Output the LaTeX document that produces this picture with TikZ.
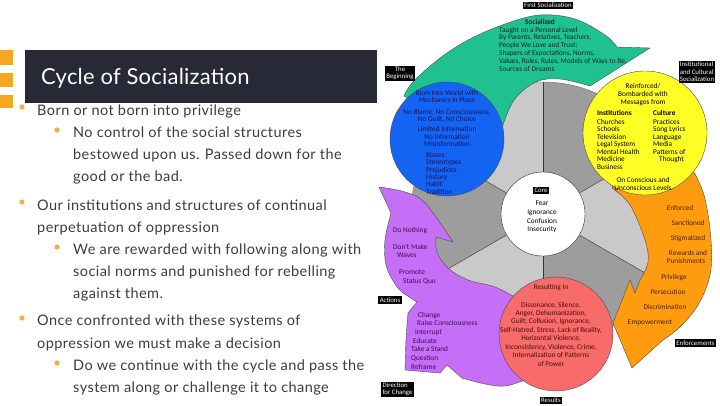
\documentclass[tikz,border=0pt]{standalone}
\usepackage{fontspec}
\setmainfont{Lato}
\newfontfamily\dfont{Carlito}
\newfontfamily\bodyfont[LetterSpace=3]{Lato}
\newfontfamily\titlefont[LetterSpace=1]{Lato}
\usetikzlibrary{calc}
\definecolor{barc}{HTML}{272A36}
\definecolor{sqor}{HTML}{F5A623}
\definecolor{bul}{HTML}{F2AE3F}
\definecolor{bodyc}{HTML}{3D3D3D}
\definecolor{grn}{HTML}{1FC190}
\definecolor{blu}{HTML}{1464F4}
\definecolor{yel}{HTML}{FFFF26}
\definecolor{org}{HTML}{FF9B0F}
\definecolor{rd}{HTML}{F76B6B}
\definecolor{pur}{HTML}{C56EF7}
\definecolor{lgr}{HTML}{C9C9C9}
\definecolor{dgr}{HTML}{9D9D9D}
\definecolor{btxt}{HTML}{13135C}
\definecolor{ptxt}{HTML}{3A0D57}
\definecolor{rtxt}{HTML}{4D0B0B}
\definecolor{otxt}{HTML}{4A2000}
\definecolor{gtxt}{HTML}{0D2A20}
\begin{document}
\begin{tikzpicture}[x=1pt,y=-1pt,
  dtxt/.style={font=\dfont\fontsize{7.3}{8}\selectfont, inner sep=0pt},
  lab/.style={fill=black, text=white, font=\dfont\fontsize{6.8}{7.4}\selectfont, inner sep=1.3pt},
  shp/.style={draw=black!70, line width=0.4pt},
  btx/.style={font=\bodyfont\fontsize{14.5}{17}\selectfont, text=bodyc, inner sep=0pt, anchor=base west},
  bdot/.style={fill=bul, draw=none}
]
\useasboundingbox (0,0) rectangle (720,405);
\fill[white] (0,0) rectangle (720,405);

% ---------- left slide part ----------
\fill[sqor] (0,50) rectangle (13,65);
\fill[sqor] (0,73) rectangle (13,87);
\fill[sqor] (0,95) rectangle (13,108);
\fill[barc] (25,50) rectangle (377,103);
\node[anchor=base west, inner sep=0pt, text=white, font=\titlefont\fontsize{22}{26}\selectfont] (title) at (41,84) {Cycle of Socialization};

\foreach \bx/\by in {22/107, 57/130, 22/202, 57/247, 22/318, 57/363}
  \fill[bdot] (\bx,\by) circle[radius=2.6pt];

\node[btx] (l1) at (37,115) {Born or not born into privilege};
\node[btx] (l2) at (73,137) {No control of the social structures};
\node[btx] (l3) at (73,159) {bestowed upon us. Passed down for the};
\node[btx] (l4) at (73,181) {good or the bad.};
\node[btx] (l5) at (37,210) {Our institutions and structures of continual};
\node[btx] (l6) at (37,232) {perpetuation of oppression};
\node[btx] (l7) at (73,254) {We are rewarded with following along with};
\node[btx] (l8) at (73,276) {social norms and punished for rebelling};
\node[btx] (l9) at (73,298) {against them.};
\node[btx] (l10) at (37,325) {Once confronted with these systems of};
\node[btx] (l11) at (37,348) {oppression we must make a decision};
\node[btx] (l12) at (73,370) {Do we continue with the cycle and pass the};
\node[btx] (l13) at (73,392) {system along or challenge it to change};

% ---------- diagram ----------
\coordinate (C) at (543,214);
\begin{scope}
  \clip (C) circle[radius=132pt];
  \fill[lgr] (C) circle[radius=132pt];
  \foreach \a in {30,150,270}
    \fill[dgr] (C) -- ($(C)+(\a:400)$) -- ($(C)+(\a+60:400)$) -- cycle;
\end{scope}
\foreach \a in {30,90,150,210,270,330}
  \draw[black!80, line width=0.4pt] ($(C)+(\a:40)$) -- ($(C)+(\a:132)$);
\draw[black!60, line width=0.3pt] (C) circle[radius=132pt];

% green arrow
\filldraw[shp, fill=grn] plot[smooth, tension=0.6] coordinates {(404,96) (413,82) (440,58) (470,39) (505,24) (540,15) (575,19) (605,35) (617,47)}
  -- (650,48) -- (590,86)
  -- plot[smooth, tension=0.6] coordinates {(590,86) (560,79) (536,82) (514,100) (502,128)}
  -- (440,115) -- cycle;

% orange arrow
\filldraw[shp, fill=org] (650,180) -- plot[smooth, tension=0.6] coordinates {(690,165) (704,195) (711,240) (710,275) (698,305) (680,327) (663,340)}
  -- (632,368) -- (613,323) -- (630,280) -- (635,293) -- (640,280)
  -- plot[smooth, tension=0.6] coordinates {(640,280) (648,262) (645,240) (630,205) (612,188)}
  -- (620,170) -- cycle;

% purple arrow
\filldraw[shp, fill=pur] (379,187)
  -- plot[smooth, tension=0.6] coordinates {(379,187) (405,192) (425,203) (453,242)}
  -- (436,237)
  -- plot[smooth, tension=0.6] coordinates {(436,237) (437,252) (448,268) (468,280) (495,287) (520,300)}
  -- (530,360) -- (525,380)
  -- plot[smooth, tension=0.6] coordinates {(525,380) (505,386) (485,384) (462,378)}
  -- (447,365) -- (440,373) -- (405,370)
  -- plot[smooth, tension=0.6] coordinates {(405,370) (406,340) (408,313)}
  -- (417,302) -- (403,293)
  -- plot[smooth, tension=0.6] coordinates {(403,293) (395,284) (386,265) (385,240) (391,213)}
  -- cycle;

% circles
\filldraw[shp, fill=blu] (447,139) circle[radius=57pt];
\filldraw[shp, fill=yel] (645,133) circle[radius=62pt];
\filldraw[shp, fill=rd] (556,334) circle[radius=57pt];
\filldraw[black!80, line width=0.4pt, fill=white] (C) circle[radius=42pt];

% green texts
\node[dtxt, anchor=base, text=gtxt] (soc) at (540,24) {\textbf{Socialized}};
\foreach \yy/\lbl in {32/{Taught on a Personal Level}, 39.5/{By Parents, Relatives, Teachers,}, 47/{People We Love and Trust:}, 55/{Shapers of Expectations, Norms,}, 63/{Values, Roles, Rules, Models of Ways to Be,}, 71/{Sources of Dreams}}
  \node[dtxt, anchor=base west, text=gtxt] at (499,\yy) {\lbl};

% blue texts
\foreach \yy/\lbl in {95/{Born into World with}, 102/{Mechanics in Place}, 114/{No Blame, No Consciousness,}, 121/{No Guilt, No Choice}, 131/{Limited Information}, 139/{No Information}, 146/{Misinformation}}
  \node[dtxt, anchor=base, text=btxt] at (447,\yy) {\lbl};
\foreach \yy/\lbl in {157/Biases, 164/Stereotypes, 172/Prejudices, 179/History, 186/Habit, 194/Tradition}
  \node[dtxt, anchor=base west, text=btxt] at (426,\yy) {\lbl};

% yellow texts
\foreach \yy/\lbl in {88/{Reinforced/}, 96/{Bombarded with}, 104/{Messages from}, 182/{On Conscious and}, 190/{Unconscious Levels}}
  \node[dtxt, anchor=base, text=black] at (643,\yy) {\lbl};
\node[dtxt, anchor=base west] (inst) at (597,115) {\textbf{Institutions}};
\foreach \yy/\lbl in {124/Churches, 131.5/Schools, 139/Television, 146.5/Legal System, 154/Mental Health, 161.5/Medicine, 169/Business}
  \node[dtxt, anchor=base west] at (597,\yy) {\lbl};
\node[dtxt, anchor=base west] (cult) at (653,115) {\textbf{Culture}};
\foreach \yy/\lbl in {124/Practices, 131.5/Song Lyrics, 139/Language, 146.5/Media, 154/Patterns of}
  \node[dtxt, anchor=base west] at (653,\yy) {\lbl};
\node[dtxt, anchor=base west] (thought) at (659,161.5) {Thought};

% core texts
\foreach \yy/\lbl in {205/Fear, 214/Ignorance, 223/Confusion, 231.5/Insecurity}
  \node[dtxt, anchor=base] at (542,\yy) {\lbl};

% purple texts
\foreach \xx/\yy/\lbl in {393/232/Do Nothing, 393/249/Don't Make, 397/257/Waves, 399/274/Promote, 403/283/Status Quo, 418/317/Change, 417/325/Raise Consciousness, 415/334/Interrupt, 413/343/Educate, 411/351/Take a Stand, 411/360/Question, 411/369/Reframe}
  \node[dtxt, anchor=base west, text=ptxt] at (\xx,\yy) {\lbl};

% red texts
\foreach \yy/\lbl in {289/{Resulting In}, 307/{Dissonance, Silence,}, 315/{Anger, Dehumanization,}, 323/{Guilt, Collusion, Ignorance,}, 332/{Self-Hatred, Stress, Lack of Reality,}, 340/{Horizontal Violence,}, 349/{Inconsistency, Violence, Crime,}, 357/{Internalization of Patterns}, 366/{of Power}}
  \node[dtxt, anchor=base, text=rtxt] at (551,\yy) {\lbl};

% orange texts
\foreach \xx/\yy/\lbl in {680/210/Enforced, 688/225/Sanctioned, 688/240/Stigmatized, 688/255/Rewards and, 686/263/Punishments, 674/279/Privilege, 668/294/Persecution, 665/309/Discrimination, 650/324/Empowerment}
  \node[dtxt, anchor=base, text=otxt] at (\xx,\yy) {\lbl};

% labels
\node[lab] (first) at (548,5.5) {First Socialization};
\node[lab, align=center] (begin) at (400,73.5) {The\\Beginning};
\node[lab, align=left] (instsoc) at (697,72) {Institutional\\and Cultural\\Socialization};
\node[lab] (core) at (541,190.5) {Core};
\node[lab] (actions) at (390,300) {Actions};
\node[lab, align=left] (dirch) at (397.5,389.5) {Direction\\for Change};
\node[lab] (enf) at (695.5,343) {Enforcements};
\node[lab] (res) at (551,400.5) {Results};
\end{tikzpicture}
\end{document}
